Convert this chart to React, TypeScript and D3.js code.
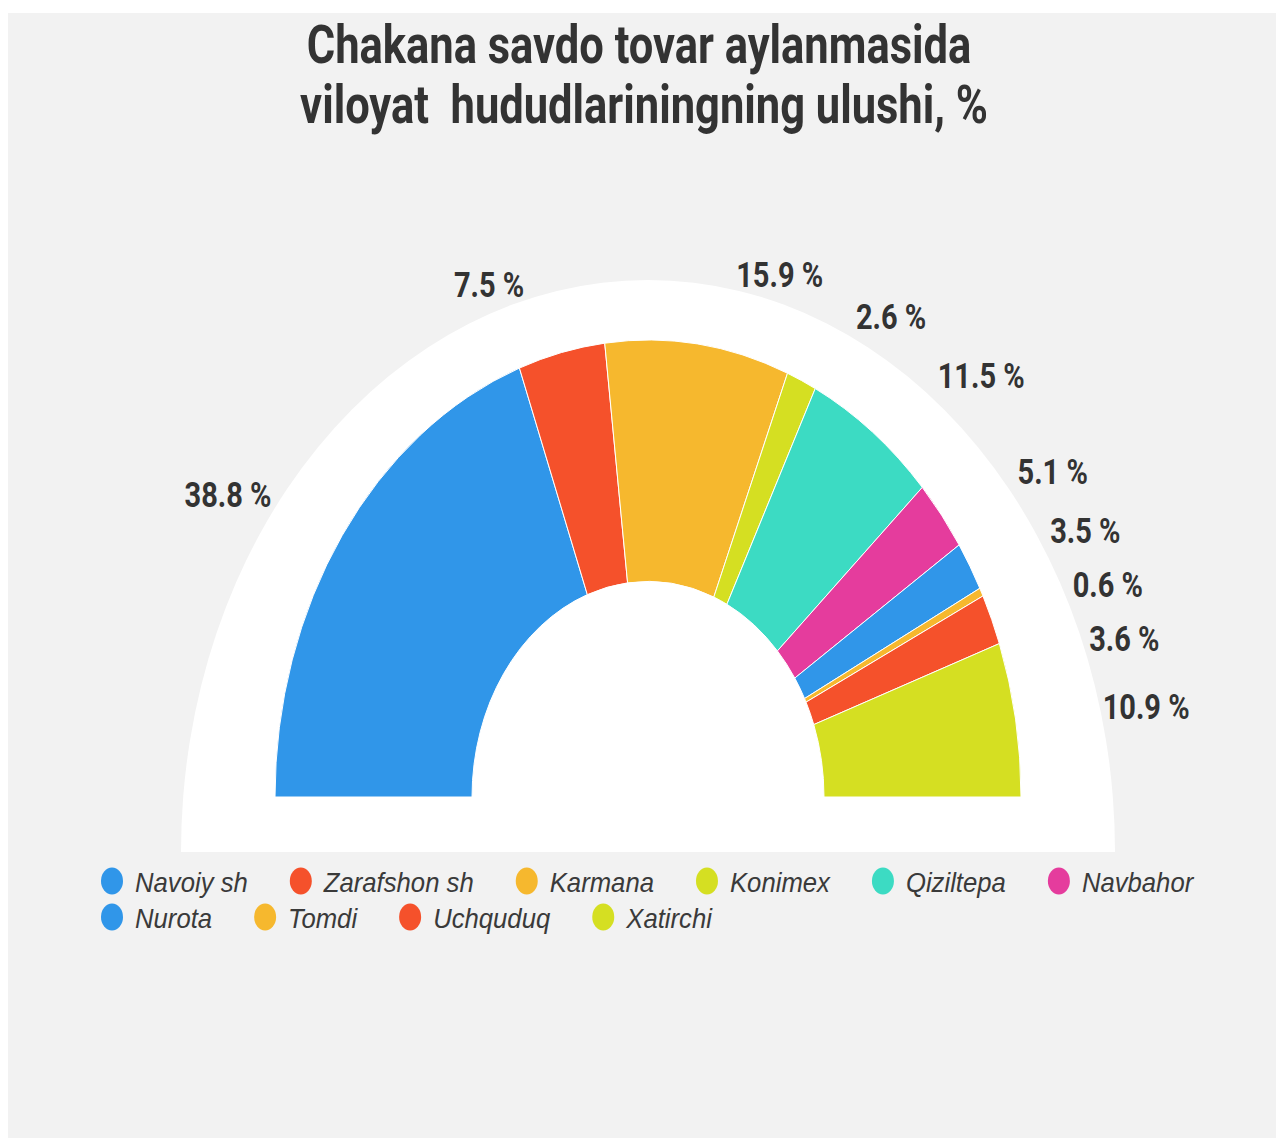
import React from "react";
import * as d3 from "d3";

const regions = [
  "Navoiy sh",
  "Zarafshon sh",
  "Karmana",
  "Konimex",
  "Qiziltepa",
  "Navbahor",
  "Nurota",
  "Tomdi",
  "Uchquduq",
  "Xatirchi",
];
const shares = [38.8, 7.5, 15.9, 2.6, 11.5, 5.1, 3.5, 0.6, 3.6, 10.9];
const colors = [
  "#3096e9",
  "#f5512b",
  "#f6b82e",
  "#d5df22",
  "#3cdbc3",
  "#e53c9d",
  "#3096e9",
  "#f6b82e",
  "#f5512b",
  "#d5df22",
];
const titleLines = [
  "Chakana savdo tovar aylanmasida",
  "viloyat  hududlariningning ulushi, %",
];

interface Slice {
  name: string;
  value: number;
  color: string;
}

const FONT = "Roboto, 'Liberation Sans', Arial, sans-serif";
const LEGEND_FONT = "'Liberation Sans', Arial, sans-serif";

export default function App() {
  const svgRef = React.useRef<SVGSVGElement>(null);

  React.useEffect(() => {
    const svg = d3.select(svgRef.current);
    svg.selectAll("*").remove();

    const W = 1276;
    const H = 1139;
    const stretch = 1.225; // the whole chart is squeezed taller than wide
    const cx = 648;
    const cy = 797;
    const outerR = 373;
    const innerR = 176;
    const bgR = 467;
    const labelR = 430;

    const data: Slice[] = regions.map((name, i) => ({
      name,
      value: shares[i],
      color: colors[i],
    }));

    svg
      .append("rect")
      .attr("x", 8)
      .attr("y", 13)
      .attr("width", W - 8)
      .attr("height", H - 14)
      .attr("fill", "#f2f2f2");

    // title
    svg
      .append("g")
      .selectAll("text")
      .data(titleLines)
      .join("text")
      .attr("transform", (d, i) => `translate(${639 + i * 5},${63 + i * 60}) scale(1,${stretch})`)
      .attr("text-anchor", "middle")
      .attr("font-family", FONT)
      .attr("font-weight", "bold")
      .attr("font-size", 43.5)
      .attr("fill", "#333")
      .style("white-space", "pre")
      .text((d) => d);

    // white half disc behind the donut
    const bgArc = d3
      .arc<any>()
      .innerRadius(0)
      .outerRadius(bgR)
      .startAngle(-Math.PI / 2)
      .endAngle(Math.PI / 2);
    svg
      .append("path")
      .attr("transform", `translate(${cx},852) scale(1,${stretch})`)
      .attr("d", bgArc({}) as string)
      .attr("fill", "#fff");

    const pie = d3
      .pie<Slice>()
      .sort(null)
      .value((d) => d.value)
      .startAngle(-Math.PI / 2)
      .endAngle(Math.PI / 2);
    const arcs = pie(data);

    const arc = d3
      .arc<d3.PieArcDatum<Slice>>()
      .innerRadius(innerR)
      .outerRadius(outerR);

    svg
      .append("g")
      .attr("transform", `translate(${cx},${cy}) scale(1,${stretch})`)
      .selectAll("path")
      .data(arcs)
      .join("path")
      .attr("d", arc)
      .attr("fill", (d) => d.data.color)
      .attr("stroke", "#fff")
      .attr("stroke-width", 1)
      .attr("vector-effect", "non-scaling-stroke");

    // labels: place on an ellipse, push overlapping ones down
    const offR = 31;
    const offL = 24;
    const minGap = 54;
    const xOnRing = (y: number, right: boolean) => {
      const t = Math.min(1, Math.abs(cy - y) / (labelR * stretch));
      const dx = labelR * Math.sqrt(1 - t * t);
      return right ? cx + dx + offR : cx - dx - offL;
    };
    const labels = arcs.map((a) => {
      const mid = (a.startAngle + a.endAngle) / 2;
      const right = Math.sin(mid) > 0;
      const y = cy - Math.cos(mid) * labelR * stretch;
      return { a, right, y, x: xOnRing(y, right), w: 0 };
    });

    const labelG = svg.append("g");
    const texts = labelG
      .selectAll("text")
      .data(labels)
      .join("text")
      .attr("font-family", FONT)
      .attr("font-weight", "bold")
      .attr("font-size", 29)
      .attr("fill", "#333")
      .attr("text-anchor", (d) => (d.right ? "start" : "end"))
      .text((d) => `${d.a.data.value} %`);
    texts.each(function (d) {
      d.w = (this as SVGTextElement).getComputedTextLength();
    });

    const rightSide = labels.filter((l) => l.right).sort((p, q) => p.y - q.y);
    for (let i = 1; i < rightSide.length; i++) {
      const prev = rightSide[i - 1];
      const cur = rightSide[i];
      const overlapX = cur.x < prev.x + prev.w && prev.x < cur.x + cur.w;
      if (overlapX && cur.y - prev.y < minGap) {
        cur.y = prev.y + minGap;
        cur.x = xOnRing(cur.y, true);
      }
    }

    texts.attr(
      "transform",
      (d) => `translate(${d.x},${d.y + 12}) scale(1,${stretch})`
    );

    // legend
    const legendG = svg.append("g");
    let lx = 112;
    let row = 0;
    const maxX = 1225;
    data.forEach((d) => {
      const item = legendG.append("g");
      const t = item
        .append("text")
        .attr("font-family", LEGEND_FONT)
        .attr("font-style", "italic")
        .attr("font-size", 25.7)
        .attr("fill", "#3a3a3a")
        .text(d.name);
      const tw = (t.node() as SVGTextElement).getComputedTextLength();
      if (lx + 23 + tw > maxX) {
        row += 1;
        lx = 112;
      }
      const yy = 881 + row * 36;
      item
        .append("ellipse")
        .attr("cx", lx)
        .attr("cy", yy)
        .attr("rx", 11)
        .attr("ry", 13.5)
        .attr("fill", d.color);
      t.attr("transform", `translate(${lx + 23},${yy + 11}) scale(1,1.1)`);
      lx = lx + 23 + tw + 53;
    });
  }, []);

  return (
    <svg
      ref={svgRef}
      width={1276}
      height={1139}
      style={{ position: "absolute", left: 0, top: 0, display: "block" }}
    />
  );
}
